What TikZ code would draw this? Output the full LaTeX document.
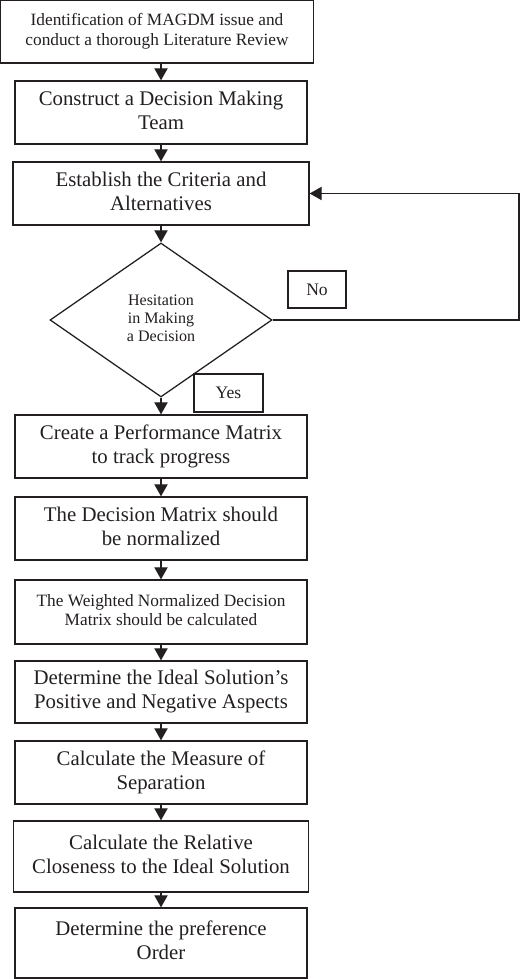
\documentclass[tikz,border=0pt]{standalone}
\usepackage{fontspec}
\setmainfont{Liberation Serif}
\usetikzlibrary{shapes.geometric,arrows.meta}
\definecolor{ink}{RGB}{35,31,32}
\begin{document}
\begin{tikzpicture}
        \tikzstyle{stepbox}=[rectangle, draw=ink, line width=0.9pt, text=ink, inner sep=0pt, minimum width=7.3cm, minimum height=1.575cm, font=\fontsize{14.8}{17}\selectfont]
        \tikzstyle{smallbox}=[stepbox, font=\fontsize{12.3}{14.2}\selectfont]
        \tikzstyle{decision}=[diamond, draw=ink, line width=0.9pt, text=ink, inner sep=0pt, minimum width=5.55cm, minimum height=3.85cm, font=\fontsize{11.4}{13}\selectfont]
        \tikzstyle{answer}=[rectangle, draw=ink, line width=0.9pt, text=ink, inner sep=0pt, font=\fontsize{12.5}{15}\selectfont]
        \tikzstyle{edge}=[ink, line width=0.9pt, -{Triangle[width=0.33cm,length=0.3cm]}]

        \useasboundingbox (0,0) rectangle (13,24.475);

        \node[smallbox, minimum width=7.825cm] (ident) at (3.925,23.6875) {\begin{tabular}{c} Identification of MAGDM issue and \\ conduct a thorough Literature Review \end{tabular}};
        \node[stepbox] (team)  at (4.025,21.6625) {\begin{tabular}{c} Construct a Decision Making \\ Team \end{tabular}};
        \node[stepbox, minimum width=7.4cm] (crit) at (4.025,19.6375) {\begin{tabular}{c} Establish the Criteria and \\ Alternatives \end{tabular}};
        \node[decision] (hes) at (4.025,16.475) {\begin{tabular}{c} Hesitation \\ in Making \\ a Decision \end{tabular}};
        \node[answer, minimum width=1.45cm, minimum height=0.925cm] (no)  at (7.925,17.2375) {No};
        \node[answer, minimum width=1.725cm, minimum height=0.95cm] (yes) at (5.7125,14.65) {Yes};

        \node[stepbox] (perf)  at (4.025,13.3125) {\begin{tabular}{c} Create a Performance Matrix \\ to track progress \end{tabular}};
        \node[stepbox] (norm)  at (4.025,11.2625) {\begin{tabular}{c} The Decision Matrix should \\ be normalized \end{tabular}};
        \node[smallbox, minimum height=1.6cm] (wnorm) at (4.025,9.175) {\begin{tabular}{c} The Weighted Normalized Decision \\ Matrix should be calculated \end{tabular}};
        \node[stepbox, minimum height=1.55cm] (ideal) at (4.025,7.175) {\begin{tabular}{c} Determine the Ideal Solution’s \\ Positive and Negative Aspects \end{tabular}};
        \node[stepbox] (sep)   at (4.025,5.1625) {\begin{tabular}{c} Calculate the Measure of \\ Separation \end{tabular}};
        \node[stepbox, minimum width=7.375cm, minimum height=1.775cm] (close) at (4.025,3.0625) {\begin{tabular}{c} Calculate the Relative \\ Closeness to the Ideal Solution \end{tabular}};
        \node[stepbox, minimum height=1.75cm] (order) at (4.025,0.9) {\begin{tabular}{c} Determine the preference \\ Order \end{tabular}};

        \coordinate (loop) at (12.975,19.6375);

        \draw[edge] (ident.south -| team.north) -- (team.north);
        \draw[edge] (team) -- (crit);
        \draw[edge] (crit) -- (hes);
        \draw[edge] (hes) -- (perf);
        \draw[edge] (perf) -- (norm);
        \draw[edge] (norm) -- (wnorm);
        \draw[edge] (wnorm) -- (ideal);
        \draw[edge] (ideal) -- (sep);
        \draw[edge] (sep) -- (close);
        \draw[edge] (close) -- (order);

        % loop back when there is hesitation
        \draw[edge] (hes.east) -| (loop) -- (crit.east);
    \end{tikzpicture}
\end{document}
